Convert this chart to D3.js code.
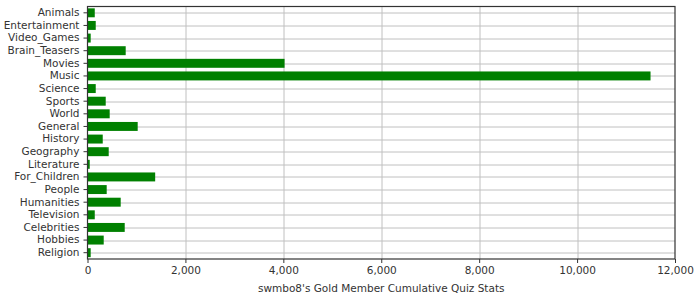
<!DOCTYPE html>
<html>
<head>
<meta charset="utf-8">
<script src="https://cdn.jsdelivr.net/npm/d3@7"></script>
<style>
  body { margin: 0; background: #fff; }
  text { font-family: "DejaVu Sans", sans-serif; fill: #333; }
</style>
</head>
<body>
<svg id="chart" width="700" height="300"></svg>
<script>
var categories = ["Animals", "Entertainment", "Video_Games", "Brain_Teasers", "Movies", "Music",
    "Science", "Sports", "World", "General", "History", "Geography", "Literature",
    "For_Children", "People", "Humanities", "Television", "Celebrities", "Hobbies", "Religion"];
var values = [138, 158, 55, 770, 4015, 11490, 158, 362, 443, 1015, 301, 423, 35,
    1372, 382, 668, 138, 750, 321, 55];
var xTicks = [0, 2000, 4000, 6000, 8000, 10000, 12000];
var xTitle = "swmbo8's Gold Member Cumulative Quiz Stats";

var margin = {top: 6.5, right: 25, bottom: 41, left: 87.5},
    width = 700 - margin.left - margin.right,
    height = 300 - margin.top - margin.bottom;

var svg = d3.select("#chart");
var g = svg.append("g").attr("transform", "translate(" + margin.left + "," + margin.top + ")");

var x = d3.scaleLinear().domain([0, 12000]).range([0, width]);
var y = d3.scaleBand().domain(categories).range([0, height]).paddingInner(0.29).paddingOuter(0.145);

// grid
g.selectAll(".vgrid").data(xTicks.slice(1, -1)).join("line")
    .attr("x1", d => Math.round(x(d)) + 0.5).attr("x2", d => Math.round(x(d)) + 0.5)
    .attr("y1", 0).attr("y2", height)
    .attr("stroke", "#c0c0c0").attr("stroke-width", 1);
g.selectAll(".hgrid").data(categories).join("line")
    .attr("x1", 0).attr("x2", width)
    .attr("y1", d => Math.round(y(d) + y.bandwidth() / 2) + 0.5)
    .attr("y2", d => Math.round(y(d) + y.bandwidth() / 2) + 0.5)
    .attr("stroke", "#c0c0c0").attr("stroke-width", 1);

// bars
g.selectAll(".bar").data(categories).join("rect")
    .attr("x", 0.5)
    .attr("y", d => y(d))
    .attr("width", (d, i) => x(values[i]))
    .attr("height", y.bandwidth())
    .attr("fill", "#008000");

// frame
g.append("rect").attr("x", 0).attr("y", 0).attr("width", width).attr("height", height)
    .attr("fill", "none").attr("stroke", "#333").attr("stroke-width", 1.2);

// axes
var yAxis = g.append("g").call(d3.axisLeft(y).tickSize(4).tickPadding(4));
yAxis.select(".domain").remove();
yAxis.selectAll("line").attr("stroke", "#333");
yAxis.selectAll("text").style("font-size", "10.5px").style("fill", "#333");

var xAxis = g.append("g").attr("transform", "translate(0," + height + ")")
    .call(d3.axisBottom(x).tickValues(xTicks).tickFormat(d3.format(",")).tickSize(4).tickPadding(4));
xAxis.select(".domain").remove();
xAxis.selectAll("line").attr("stroke", "#333");
xAxis.selectAll("text").style("font-size", "10.5px").style("fill", "#333");

g.append("text")
    .attr("x", width / 2).attr("y", height + 33)
    .attr("text-anchor", "middle")
    .style("font-size", "10.5px")
    .text(xTitle);
</script>
</body>
</html>
